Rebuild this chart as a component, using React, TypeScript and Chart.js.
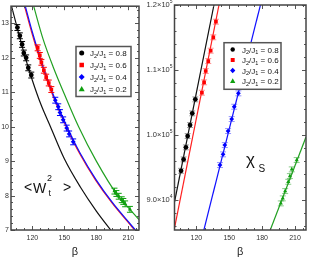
import React, { useEffect, useRef } from 'react';
import { Chart, registerables } from 'chart.js';

Chart.register(...registerables);

const FONT = "'Liberation Sans', Arial, 'DejaVu Sans', sans-serif";

// ---- axis ticks ----
const betaMajor = [120, 150, 180, 210];
const betaMinor = [105, 112.5, 127.5, 135, 142.5, 157.5, 165, 172.5, 187.5, 195, 202.5, 217.5];
const wMajor = [7, 8, 9, 10, 11, 12, 13];
const wMinor = [7.2, 7.4, 7.6, 7.8, 8.2, 8.4, 8.6, 8.8, 9.2, 9.4, 9.6, 9.8, 10.2, 10.4, 10.6, 10.8, 11.2, 11.4, 11.6, 11.8, 12.2, 12.4, 12.6, 12.8, 13.2, 13.4];
const chiMajor = [90000, 100000, 110000, 120000];
const chiMajorText = ['9.0×10', '1.0×10', '1.1×10', '1.2×10'];
const chiMajorExp = ['4', '5', '5', '5'];
const chiMinor = [86000, 88000, 92000, 94000, 96000, 98000, 102000, 104000, 106000, 108000, 112000, 114000, 116000, 118000];

// ---- series ----
const ratios = ['0.8', '0.6', '0.4', '0.2'];
const colors = ['#000000', '#ff0000', '#0000ff', '#0fa00f'];
const lineColors = ['#111111', '#ff2020', '#1010ff', '#22a022'];
const errColorsRight = ['rgba(80,80,80,0.55)', 'rgba(255,60,60,0.55)', 'rgba(60,60,255,0.55)', 'rgba(40,160,40,0.55)'];
const pointStyles = ['circle', 'rect', 'rectRot', 'triangle'];

// data points (beta shared by both panels)
const beta08 = [106, 108.3, 110.4, 112, 114.2, 116.2, 119];
const w08 = [12.88, 12.64, 12.39, 12.14, 12.0, 11.71, 11.5];
const chi08 = [94500, 96260, 98110, 99850, 101540, 103340, 105490];

const beta06 = [125, 127, 128.5, 130.8, 133, 135.4, 137.8];
const w06 = [12.29, 12.07, 11.87, 11.64, 11.44, 11.27, 11.08];
const chi06 = [106510, 108110, 109850, 111380, 112970, 115030, 117430];

const beta04 = [141.5, 144.3, 145.9, 148.9, 152.2, 154.5, 158.3];
const w04 = [10.77, 10.58, 10.41, 10.2, 9.96, 9.79, 9.56];
const chi04 = [95384, 97030, 98461, 100615, 102461, 104354, 106415];

const beta02 = [197, 198.8, 201, 203.8, 205.3, 207, 211.5];
const w02 = [8.13, 8.06, 7.98, 7.88, 7.83, 7.76, 7.6];
const chi02 = [89491, 90261, 91384, 92815, 93692, 94723, 96153];

const wErr = [0.085, 0.085, 0.085, 0.085, 0.085, 0.085, 0.085];
const chiErr = [380, 380, 380, 380, 380, 380, 380];

// fit curves, left panel
const lineBeta08W = [100.5, 106, 113, 120, 128, 137, 150, 165, 180, 193.5];
const lineW08 = [13.5, 12.85, 12.05, 11.35, 10.65, 10.0, 9.07, 8.25, 7.55, 7.0];
const lineBeta06W = [112.7, 119.3, 129.3, 139.3, 151.8, 164.3, 179.3, 194.3, 209.3, 215.9];
const lineW06 = [13.5, 12.75, 11.75, 10.9, 10.0, 9.22, 8.45, 7.8, 7.24, 7.0];
const lineBeta04W = [113.4, 120, 130, 140, 152.5, 165, 180, 195, 210, 216.6];
const lineW04 = [13.5, 12.75, 11.75, 10.9, 10.0, 9.22, 8.45, 7.8, 7.24, 7.0];
const lineBeta02W = [121.25, 130, 140, 150, 163.4, 180, 200, 210, 220];
const lineW02 = [13.5, 12.55, 11.7, 10.95, 10.0, 9.0, 8.0, 7.65, 7.3];

// fit lines, right panel
const lineBeta08C = [100, 136];
const lineChi08 = [89700, 120000];
const lineBeta06C = [100, 140.6];
const lineChi06 = [85700, 120000];
const lineBeta04C = [126.8, 178.4];
const lineChi04 = [85400, 120000];
const lineBeta02C = [187.4, 220];
const lineChi02 = [85400, 99700];

const zip = (xs: number[], ys: number[]) => xs.map((x, i) => ({ x, y: ys[i] }));

function drawMarker(ctx: CanvasRenderingContext2D, style: string, x: number, y: number, r: number, color: string) {
  ctx.fillStyle = color;
  ctx.beginPath();
  if (style === 'circle') {
    ctx.arc(x, y, r, 0, Math.PI * 2);
  } else if (style === 'rect') {
    const s = r * 0.9;
    ctx.rect(x - s, y - s, 2 * s, 2 * s);
  } else if (style === 'rectRot') {
    const s = r * 1.2;
    ctx.moveTo(x, y - s); ctx.lineTo(x + s, y); ctx.lineTo(x, y + s); ctx.lineTo(x - s, y); ctx.closePath();
  } else {
    const s = r * 1.2;
    ctx.moveTo(x, y - s); ctx.lineTo(x + s, y + s * 0.75); ctx.lineTo(x - s, y + s * 0.75); ctx.closePath();
  }
  ctx.fill();
}

function drawJLabel(ctx: CanvasRenderingContext2D, x: number, y: number, value: string) {
  ctx.fillStyle = '#111';
  ctx.textBaseline = 'alphabetic';
  ctx.textAlign = 'left';
  const base = y + 3;
  let cx = x;
  const big = `8px ${FONT}`;
  const small = `5.5px ${FONT}`;
  ctx.font = big; ctx.fillText('J', cx, base); cx += ctx.measureText('J').width;
  ctx.font = small; ctx.fillText('2', cx, base + 1.8); cx += ctx.measureText('2').width;
  ctx.font = big; ctx.fillText('/J', cx, base); cx += ctx.measureText('/J').width;
  ctx.font = small; ctx.fillText('1', cx, base + 1.8); cx += ctx.measureText('1').width;
  ctx.font = big; ctx.fillText(' = ' + value, cx, base);
}

type Decor = {
  xMajor: number[]; xMinor: number[]; yMajor: number[]; yMinor: number[];
  legend: { left: number; top: number; right: number; bottom: number; rows: number[]; markerX: number; textX: number; r: number };
  extra: (ctx: CanvasRenderingContext2D, chart: any) => void;
};

function decorPlugin(d: Decor) {
  return {
    id: 'decor',
    beforeDatasetDraw(chart: any, args: any) {
      const ds = chart.data.datasets[args.index];
      if (!ds.yErr) return;
      const ctx = chart.ctx as CanvasRenderingContext2D;
      const ys = chart.scales.y;
      const a = chart.chartArea;
      ctx.save();
      ctx.beginPath(); ctx.rect(a.left, a.top, a.right - a.left, a.bottom - a.top); ctx.clip();
      ctx.strokeStyle = ds.errColor; ctx.lineWidth = 1;
      args.meta.data.forEach((el: any, i: number) => {
        const v = ds.data[i].y; const e = ds.yErr[i];
        const y1 = ys.getPixelForValue(v - e); const y2 = ys.getPixelForValue(v + e);
        const x = el.x; const cap = 3;
        ctx.beginPath();
        ctx.moveTo(x, y1); ctx.lineTo(x, y2);
        ctx.moveTo(x - cap, y1); ctx.lineTo(x + cap, y1);
        ctx.moveTo(x - cap, y2); ctx.lineTo(x + cap, y2);
        ctx.stroke();
      });
      ctx.restore();
    },
    afterDraw(chart: any) {
      const ctx = chart.ctx as CanvasRenderingContext2D;
      const a = chart.chartArea;
      const xs = chart.scales.x; const ys = chart.scales.y;
      ctx.save();
      ctx.strokeStyle = '#555'; ctx.lineWidth = 1;
      const xt = (vals: number[], len: number) => {
        vals.forEach((v) => {
          const px = Math.round(xs.getPixelForValue(v)) + 0.5;
          ctx.beginPath();
          ctx.moveTo(px, a.bottom); ctx.lineTo(px, a.bottom - len);
          ctx.moveTo(px, a.top); ctx.lineTo(px, a.top + len);
          ctx.stroke();
        });
      };
      const yt = (vals: number[], len: number) => {
        vals.forEach((v) => {
          const py = Math.round(ys.getPixelForValue(v)) + 0.5;
          ctx.beginPath();
          ctx.moveTo(a.left, py); ctx.lineTo(a.left + len, py);
          ctx.moveTo(a.right, py); ctx.lineTo(a.right - len, py);
          ctx.stroke();
        });
      };
      xt(d.xMajor, 4); xt(d.xMinor, 2);
      yt(d.yMajor, 4); yt(d.yMinor, 2);
      ctx.strokeStyle = '#444'; ctx.lineWidth = 1.5;
      ctx.strokeRect(a.left, a.top, a.right - a.left, a.bottom - a.top);

      // legend
      const L = d.legend;
      ctx.fillStyle = '#ffffff';
      ctx.fillRect(L.left, L.top, L.right - L.left, L.bottom - L.top);
      ctx.strokeStyle = '#555'; ctx.lineWidth = 1.5;
      ctx.strokeRect(L.left, L.top, L.right - L.left, L.bottom - L.top);
      L.rows.forEach((ry, i) => {
        drawMarker(ctx, pointStyles[i], L.markerX, ry, L.r, colors[i]);
        drawJLabel(ctx, L.textX, ry, ratios[i]);
      });
      d.extra(ctx, chart);
      ctx.restore();
    },
  };
}

function pointDatasets(betas: number[][], vals: number[][], errs: number[], errColors: string[]) {
  return betas.map((b, i) => ({
    data: zip(b, vals[i]),
    showLine: false,
    pointStyle: pointStyles[i],
    pointRadius: i === 1 ? 2.6 : 2.4,
    pointBackgroundColor: colors[i],
    pointBorderColor: colors[i],
    pointBorderWidth: 0,
    yErr: errs,
    errColor: errColors[i],
  }));
}

function lineDataset(xs: number[], ys: number[], color: string, curved: boolean) {
  return {
    data: zip(xs, ys),
    showLine: true,
    pointRadius: 0,
    borderColor: color,
    borderWidth: 1.2,
    cubicInterpolationMode: curved ? 'monotone' : 'default',
    clip: 0,
  };
}

function baseScales(yMin: number, yMax: number, yWidth: number, yMajor: number[], showY: boolean) {
  return {
    x: {
      type: 'linear', min: 100, max: 220,
      grid: { display: false, drawTicks: false }, border: { display: false },
      afterBuildTicks: (s: any) => { s.ticks = betaMajor.map((v) => ({ value: v })); },
      afterFit: (s: any) => { s.height = 29; },
      ticks: { padding: 4, color: '#333', font: { size: 7, family: FONT }, maxRotation: 0, autoSkip: false },
      title: { display: true, text: 'β', font: { size: 11, family: FONT }, color: '#222', padding: { top: 0, bottom: 0 } },
    },
    y: {
      type: 'linear', min: yMin, max: yMax,
      grid: { display: false, drawTicks: false }, border: { display: false },
      afterBuildTicks: (s: any) => { s.ticks = yMajor.map((v) => ({ value: v })); },
      afterFit: (s: any) => { s.width = yWidth; },
      ticks: { display: showY, padding: 2, color: '#333', font: { size: 7, family: FONT }, autoSkip: false },
    },
  };
}

export default function App() {
  const leftRef = useRef<HTMLCanvasElement>(null);
  const rightRef = useRef<HTMLCanvasElement>(null);

  useEffect(() => {
    const betas = [beta08, beta06, beta04, beta02];
    const left = new Chart(leftRef.current as HTMLCanvasElement, {
      type: 'scatter',
      data: {
        datasets: [
          ...pointDatasets(betas, [w08, w06, w04, w02], wErr, colors),
          lineDataset(lineBeta08W, lineW08, lineColors[0], true),
          lineDataset(lineBeta04W, lineW04, lineColors[2], true),
          lineDataset(lineBeta06W, lineW06, lineColors[1], true),
          lineDataset(lineBeta02W, lineW02, lineColors[3], true),
        ] as any,
      },
      options: {
        animation: false, responsive: false, maintainAspectRatio: false, devicePixelRatio: 1,
        layout: { padding: { left: 0, right: 171, top: 5, bottom: 0 } },
        plugins: { legend: { display: false }, tooltip: { enabled: false } },
        scales: baseScales(7, 13.5, 11, wMajor, true) as any,
      },
      plugins: [decorPlugin({
        xMajor: betaMajor, xMinor: betaMinor, yMajor: wMajor, yMinor: wMinor,
        legend: { left: 76, top: 46.5, right: 131, bottom: 96.5, rows: [53, 65, 77, 89], markerX: 81.7, textX: 90, r: 2.5 },
        extra: (ctx) => {
          ctx.fillStyle = '#111';
          ctx.textBaseline = 'alphabetic';
          ctx.textAlign = 'left';
          ctx.font = `14px ${FONT}`;
          ctx.fillText('<', 24, 192);
          ctx.fillText('W', 33, 193);
          ctx.fillText('>', 63, 192);
          ctx.font = `9px ${FONT}`;
          ctx.fillText('2', 47, 181);
          ctx.fillText('t', 48.5, 196);
        },
      }) as any],
    });

    const right = new Chart(rightRef.current as HTMLCanvasElement, {
      type: 'scatter',
      data: {
        datasets: [
          ...pointDatasets(betas, [chi08, chi06, chi04, chi02], chiErr, errColorsRight),
          lineDataset(lineBeta08C, lineChi08, lineColors[0], false),
          lineDataset(lineBeta06C, lineChi06, lineColors[1], false),
          lineDataset(lineBeta04C, lineChi04, lineColors[2], false),
          lineDataset(lineBeta02C, lineChi02, lineColors[3], false),
        ] as any,
      },
      options: {
        animation: false, responsive: false, maintainAspectRatio: false, devicePixelRatio: 1,
        layout: { padding: { left: 0, right: 1.5, top: 5, bottom: 0 } },
        plugins: { legend: { display: false }, tooltip: { enabled: false } },
        scales: baseScales(85400, 120000, 174.5, chiMajor, false) as any,
      },
      plugins: [decorPlugin({
        xMajor: betaMajor, xMinor: betaMinor, yMajor: chiMajor, yMinor: chiMinor,
        legend: { left: 224, top: 42.7, right: 281, bottom: 89.3, rows: [49.5, 60, 70.5, 81], markerX: 232.7, textX: 242, r: 2.2 },
        extra: (ctx, chart) => {
          const ys = chart.scales.y;
          const a = chart.chartArea;
          ctx.fillStyle = '#333';
          ctx.textBaseline = 'middle';
          ctx.textAlign = 'left';
          chiMajor.forEach((v, i) => {
            const py = ys.getPixelForValue(v);
            ctx.font = `7.5px ${FONT}`;
            const w1 = ctx.measureText(chiMajorText[i]).width;
            ctx.font = `5px ${FONT}`;
            const w2 = ctx.measureText(chiMajorExp[i]).width;
            const x0 = a.left - 2 - w1 - w2;
            ctx.font = `7.5px ${FONT}`;
            ctx.fillText(chiMajorText[i], x0, py);
            ctx.font = `5px ${FONT}`;
            ctx.fillText(chiMajorExp[i], x0 + w1, py - 3);
          });
          ctx.fillStyle = '#111';
          ctx.textBaseline = 'alphabetic';
          ctx.font = `17px ${FONT}`;
          ctx.fillText('χ', 246, 165);
          ctx.font = `10px ${FONT}`;
          ctx.fillText('S', 258.5, 172);
        },
      }) as any],
    });

    return () => { left.destroy(); right.destroy(); };
  }, []);

  return (
    <div style={{ position: 'absolute', left: 0, top: 0, width: 310, height: 259, background: '#fff' }}>
      <canvas ref={leftRef} width={310} height={259} style={{ position: 'absolute', left: 0, top: 0 }} />
      <canvas ref={rightRef} width={310} height={259} style={{ position: 'absolute', left: 0, top: 0 }} />
    </div>
  );
}
